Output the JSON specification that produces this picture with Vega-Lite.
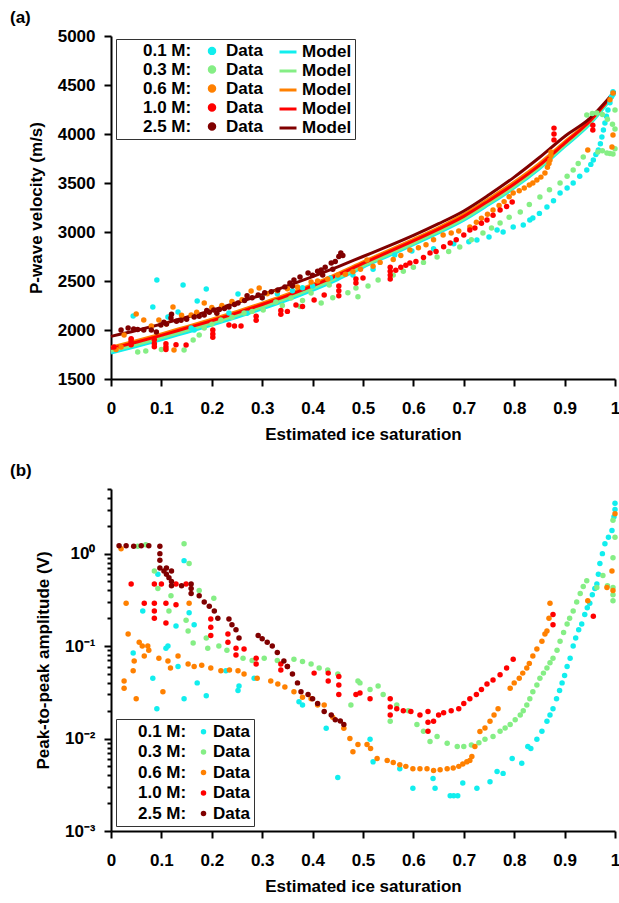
{
  "$schema": "https://vega.github.io/schema/vega-lite/v6.json",
  "background": "white",
  "padding": {"left": 10, "top": 9, "right": 0, "bottom": 0},
  "spacing": 20,
  "datasets": {
    "models": [
      {"series": "0.1 M: Model", "sat": 0, "vp": 1765}, {"series": "0.1 M: Model", "sat": 0.05, "vp": 1830}, {"series": "0.1 M: Model", "sat": 0.1, "vp": 1900}, {"series": "0.1 M: Model", "sat": 0.15, "vp": 1975}, {"series": "0.1 M: Model", "sat": 0.2, "vp": 2050}, {"series": "0.1 M: Model", "sat": 0.25, "vp": 2130}, {"series": "0.1 M: Model", "sat": 0.3, "vp": 2215}, {"series": "0.1 M: Model", "sat": 0.35, "vp": 2305}, {"series": "0.1 M: Model", "sat": 0.4, "vp": 2405}, {"series": "0.1 M: Model", "sat": 0.45, "vp": 2515}, {"series": "0.1 M: Model", "sat": 0.5, "vp": 2640}, {"series": "0.1 M: Model", "sat": 0.55, "vp": 2755}, {"series": "0.1 M: Model", "sat": 0.6, "vp": 2870}, {"series": "0.1 M: Model", "sat": 0.65, "vp": 2990}, {"series": "0.1 M: Model", "sat": 0.7, "vp": 3120}, {"series": "0.1 M: Model", "sat": 0.75, "vp": 3280}, {"series": "0.1 M: Model", "sat": 0.8, "vp": 3450}, {"series": "0.1 M: Model", "sat": 0.85, "vp": 3645}, {"series": "0.1 M: Model", "sat": 0.9, "vp": 3870}, {"series": "0.1 M: Model", "sat": 0.95, "vp": 4100}, {"series": "0.1 M: Model", "sat": 1, "vp": 4410},
      {"series": "0.3 M: Model", "sat": 0, "vp": 1785}, {"series": "0.3 M: Model", "sat": 0.05, "vp": 1850}, {"series": "0.3 M: Model", "sat": 0.1, "vp": 1920}, {"series": "0.3 M: Model", "sat": 0.15, "vp": 1995}, {"series": "0.3 M: Model", "sat": 0.2, "vp": 2070}, {"series": "0.3 M: Model", "sat": 0.25, "vp": 2150}, {"series": "0.3 M: Model", "sat": 0.3, "vp": 2235}, {"series": "0.3 M: Model", "sat": 0.35, "vp": 2325}, {"series": "0.3 M: Model", "sat": 0.4, "vp": 2425}, {"series": "0.3 M: Model", "sat": 0.45, "vp": 2535}, {"series": "0.3 M: Model", "sat": 0.5, "vp": 2655}, {"series": "0.3 M: Model", "sat": 0.55, "vp": 2770}, {"series": "0.3 M: Model", "sat": 0.6, "vp": 2885}, {"series": "0.3 M: Model", "sat": 0.65, "vp": 3005}, {"series": "0.3 M: Model", "sat": 0.7, "vp": 3135}, {"series": "0.3 M: Model", "sat": 0.75, "vp": 3295}, {"series": "0.3 M: Model", "sat": 0.8, "vp": 3465}, {"series": "0.3 M: Model", "sat": 0.85, "vp": 3660}, {"series": "0.3 M: Model", "sat": 0.9, "vp": 3885}, {"series": "0.3 M: Model", "sat": 0.95, "vp": 4115}, {"series": "0.3 M: Model", "sat": 1, "vp": 4420},
      {"series": "0.6 M: Model", "sat": 0, "vp": 1825}, {"series": "0.6 M: Model", "sat": 0.05, "vp": 1890}, {"series": "0.6 M: Model", "sat": 0.1, "vp": 1960}, {"series": "0.6 M: Model", "sat": 0.15, "vp": 2035}, {"series": "0.6 M: Model", "sat": 0.2, "vp": 2110}, {"series": "0.6 M: Model", "sat": 0.25, "vp": 2190}, {"series": "0.6 M: Model", "sat": 0.3, "vp": 2275}, {"series": "0.6 M: Model", "sat": 0.35, "vp": 2365}, {"series": "0.6 M: Model", "sat": 0.4, "vp": 2465}, {"series": "0.6 M: Model", "sat": 0.45, "vp": 2575}, {"series": "0.6 M: Model", "sat": 0.5, "vp": 2695}, {"series": "0.6 M: Model", "sat": 0.55, "vp": 2810}, {"series": "0.6 M: Model", "sat": 0.6, "vp": 2925}, {"series": "0.6 M: Model", "sat": 0.65, "vp": 3045}, {"series": "0.6 M: Model", "sat": 0.7, "vp": 3180}, {"series": "0.6 M: Model", "sat": 0.75, "vp": 3340}, {"series": "0.6 M: Model", "sat": 0.8, "vp": 3510}, {"series": "0.6 M: Model", "sat": 0.85, "vp": 3700}, {"series": "0.6 M: Model", "sat": 0.9, "vp": 3920}, {"series": "0.6 M: Model", "sat": 0.95, "vp": 4140}, {"series": "0.6 M: Model", "sat": 1, "vp": 4430},
      {"series": "1.0 M: Model", "sat": 0, "vp": 1810}, {"series": "1.0 M: Model", "sat": 0.05, "vp": 1875}, {"series": "1.0 M: Model", "sat": 0.1, "vp": 1945}, {"series": "1.0 M: Model", "sat": 0.15, "vp": 2020}, {"series": "1.0 M: Model", "sat": 0.2, "vp": 2095}, {"series": "1.0 M: Model", "sat": 0.25, "vp": 2175}, {"series": "1.0 M: Model", "sat": 0.3, "vp": 2260}, {"series": "1.0 M: Model", "sat": 0.35, "vp": 2350}, {"series": "1.0 M: Model", "sat": 0.4, "vp": 2450}, {"series": "1.0 M: Model", "sat": 0.45, "vp": 2560}, {"series": "1.0 M: Model", "sat": 0.5, "vp": 2680}, {"series": "1.0 M: Model", "sat": 0.55, "vp": 2795}, {"series": "1.0 M: Model", "sat": 0.6, "vp": 2910}, {"series": "1.0 M: Model", "sat": 0.65, "vp": 3030}, {"series": "1.0 M: Model", "sat": 0.7, "vp": 3160}, {"series": "1.0 M: Model", "sat": 0.75, "vp": 3320}, {"series": "1.0 M: Model", "sat": 0.8, "vp": 3490}, {"series": "1.0 M: Model", "sat": 0.85, "vp": 3680}, {"series": "1.0 M: Model", "sat": 0.9, "vp": 3905}, {"series": "1.0 M: Model", "sat": 0.95, "vp": 4130}, {"series": "1.0 M: Model", "sat": 1, "vp": 4430},
      {"series": "2.5 M: Model", "sat": 0, "vp": 1935}, {"series": "2.5 M: Model", "sat": 0.05, "vp": 1995}, {"series": "2.5 M: Model", "sat": 0.1, "vp": 2060}, {"series": "2.5 M: Model", "sat": 0.15, "vp": 2130}, {"series": "2.5 M: Model", "sat": 0.2, "vp": 2200}, {"series": "2.5 M: Model", "sat": 0.25, "vp": 2280}, {"series": "2.5 M: Model", "sat": 0.3, "vp": 2360}, {"series": "2.5 M: Model", "sat": 0.35, "vp": 2450}, {"series": "2.5 M: Model", "sat": 0.4, "vp": 2545}, {"series": "2.5 M: Model", "sat": 0.45, "vp": 2645}, {"series": "2.5 M: Model", "sat": 0.5, "vp": 2750}, {"series": "2.5 M: Model", "sat": 0.55, "vp": 2855}, {"series": "2.5 M: Model", "sat": 0.6, "vp": 2965}, {"series": "2.5 M: Model", "sat": 0.65, "vp": 3085}, {"series": "2.5 M: Model", "sat": 0.7, "vp": 3215}, {"series": "2.5 M: Model", "sat": 0.75, "vp": 3380}, {"series": "2.5 M: Model", "sat": 0.8, "vp": 3560}, {"series": "2.5 M: Model", "sat": 0.85, "vp": 3760}, {"series": "2.5 M: Model", "sat": 0.9, "vp": 3975}, {"series": "2.5 M: Model", "sat": 0.95, "vp": 4160}, {"series": "2.5 M: Model", "sat": 1, "vp": 4440}
    ],
    "velocity": [
      {"series": "0.1 M: Data", "sat": 0.044, "vp": 2143}, {"series": "0.1 M: Data", "sat": 0.083, "vp": 2235}, {"series": "0.1 M: Data", "sat": 0.091, "vp": 2510}, {"series": "0.1 M: Data", "sat": 0.113, "vp": 2133}, {"series": "0.1 M: Data", "sat": 0.133, "vp": 2184}, {"series": "0.1 M: Data", "sat": 0.143, "vp": 2459}, {"series": "0.1 M: Data", "sat": 0.159, "vp": 2020}, {"series": "0.1 M: Data", "sat": 0.165, "vp": 2000}, {"series": "0.1 M: Data", "sat": 0.171, "vp": 2296}, {"series": "0.1 M: Data", "sat": 0.189, "vp": 2418}, {"series": "0.1 M: Data", "sat": 0.234, "vp": 2173}, {"series": "0.1 M: Data", "sat": 0.252, "vp": 2367}, {"series": "0.1 M: Data", "sat": 0.27, "vp": 2170}, {"series": "0.1 M: Data", "sat": 0.3, "vp": 2330}, {"series": "0.1 M: Data", "sat": 0.33, "vp": 2370}, {"series": "0.1 M: Data", "sat": 0.36, "vp": 2400}, {"series": "0.1 M: Data", "sat": 0.38, "vp": 2430}, {"series": "0.1 M: Data", "sat": 0.4, "vp": 2450}, {"series": "0.1 M: Data", "sat": 0.435, "vp": 2530}, {"series": "0.1 M: Data", "sat": 0.45, "vp": 2540}, {"series": "0.1 M: Data", "sat": 0.48, "vp": 2560}, {"series": "0.1 M: Data", "sat": 0.52, "vp": 2620}, {"series": "0.1 M: Data", "sat": 0.563, "vp": 2765}, {"series": "0.1 M: Data", "sat": 0.597, "vp": 2806}, {"series": "0.1 M: Data", "sat": 0.64, "vp": 2830}, {"series": "0.1 M: Data", "sat": 0.68, "vp": 2880}, {"series": "0.1 M: Data", "sat": 0.71, "vp": 2900}, {"series": "0.1 M: Data", "sat": 0.726, "vp": 2918}, {"series": "0.1 M: Data", "sat": 0.75, "vp": 2950}, {"series": "0.1 M: Data", "sat": 0.766, "vp": 3020}, {"series": "0.1 M: Data", "sat": 0.778, "vp": 3000}, {"series": "0.1 M: Data", "sat": 0.798, "vp": 3051}, {"series": "0.1 M: Data", "sat": 0.818, "vp": 3071}, {"series": "0.1 M: Data", "sat": 0.831, "vp": 3122}, {"series": "0.1 M: Data", "sat": 0.837, "vp": 3143}, {"series": "0.1 M: Data", "sat": 0.85, "vp": 3190}, {"series": "0.1 M: Data", "sat": 0.865, "vp": 3255}, {"series": "0.1 M: Data", "sat": 0.878, "vp": 3320}, {"series": "0.1 M: Data", "sat": 0.891, "vp": 3398}, {"series": "0.1 M: Data", "sat": 0.905, "vp": 3450}, {"series": "0.1 M: Data", "sat": 0.917, "vp": 3500}, {"series": "0.1 M: Data", "sat": 0.93, "vp": 3570}, {"series": "0.1 M: Data", "sat": 0.944, "vp": 3633}, {"series": "0.1 M: Data", "sat": 0.952, "vp": 3690}, {"series": "0.1 M: Data", "sat": 0.957, "vp": 3735}, {"series": "0.1 M: Data", "sat": 0.962, "vp": 3790}, {"series": "0.1 M: Data", "sat": 0.967, "vp": 3837}, {"series": "0.1 M: Data", "sat": 0.971, "vp": 3900}, {"series": "0.1 M: Data", "sat": 0.974, "vp": 3969}, {"series": "0.1 M: Data", "sat": 0.977, "vp": 4040}, {"series": "0.1 M: Data", "sat": 0.98, "vp": 4112}, {"series": "0.1 M: Data", "sat": 0.983, "vp": 4180}, {"series": "0.1 M: Data", "sat": 0.986, "vp": 4245}, {"series": "0.1 M: Data", "sat": 0.99, "vp": 4320}, {"series": "0.1 M: Data", "sat": 0.993, "vp": 4380}, {"series": "0.1 M: Data", "sat": 0.996, "vp": 4430},
      {"series": "0.3 M: Data", "sat": 0.053, "vp": 1776}, {"series": "0.3 M: Data", "sat": 0.069, "vp": 1786}, {"series": "0.3 M: Data", "sat": 0.1, "vp": 1800}, {"series": "0.3 M: Data", "sat": 0.145, "vp": 1796}, {"series": "0.3 M: Data", "sat": 0.163, "vp": 1898}, {"series": "0.3 M: Data", "sat": 0.175, "vp": 1949}, {"series": "0.3 M: Data", "sat": 0.185, "vp": 2020}, {"series": "0.3 M: Data", "sat": 0.2, "vp": 2060}, {"series": "0.3 M: Data", "sat": 0.218, "vp": 2102}, {"series": "0.3 M: Data", "sat": 0.24, "vp": 2130}, {"series": "0.3 M: Data", "sat": 0.264, "vp": 2173}, {"series": "0.3 M: Data", "sat": 0.28, "vp": 2190}, {"series": "0.3 M: Data", "sat": 0.302, "vp": 2204}, {"series": "0.3 M: Data", "sat": 0.327, "vp": 2286}, {"series": "0.3 M: Data", "sat": 0.34, "vp": 2250}, {"series": "0.3 M: Data", "sat": 0.357, "vp": 2326}, {"series": "0.3 M: Data", "sat": 0.375, "vp": 2240}, {"series": "0.3 M: Data", "sat": 0.38, "vp": 2300}, {"series": "0.3 M: Data", "sat": 0.397, "vp": 2377}, {"series": "0.3 M: Data", "sat": 0.417, "vp": 2275}, {"series": "0.3 M: Data", "sat": 0.433, "vp": 2459}, {"series": "0.3 M: Data", "sat": 0.44, "vp": 2330}, {"series": "0.3 M: Data", "sat": 0.47, "vp": 2380}, {"series": "0.3 M: Data", "sat": 0.486, "vp": 2428}, {"series": "0.3 M: Data", "sat": 0.49, "vp": 2340}, {"series": "0.3 M: Data", "sat": 0.51, "vp": 2450}, {"series": "0.3 M: Data", "sat": 0.53, "vp": 2510}, {"series": "0.3 M: Data", "sat": 0.56, "vp": 2560}, {"series": "0.3 M: Data", "sat": 0.58, "vp": 2600}, {"series": "0.3 M: Data", "sat": 0.6, "vp": 2640}, {"series": "0.3 M: Data", "sat": 0.62, "vp": 2690}, {"series": "0.3 M: Data", "sat": 0.647, "vp": 2745}, {"series": "0.3 M: Data", "sat": 0.67, "vp": 2800}, {"series": "0.3 M: Data", "sat": 0.692, "vp": 2847}, {"series": "0.3 M: Data", "sat": 0.715, "vp": 2920}, {"series": "0.3 M: Data", "sat": 0.738, "vp": 2990}, {"series": "0.3 M: Data", "sat": 0.755, "vp": 3040}, {"series": "0.3 M: Data", "sat": 0.772, "vp": 3092}, {"series": "0.3 M: Data", "sat": 0.79, "vp": 3150}, {"series": "0.3 M: Data", "sat": 0.812, "vp": 3204}, {"series": "0.3 M: Data", "sat": 0.83, "vp": 3280}, {"series": "0.3 M: Data", "sat": 0.851, "vp": 3357}, {"series": "0.3 M: Data", "sat": 0.87, "vp": 3430}, {"series": "0.3 M: Data", "sat": 0.891, "vp": 3500}, {"series": "0.3 M: Data", "sat": 0.905, "vp": 3570}, {"series": "0.3 M: Data", "sat": 0.917, "vp": 3633}, {"series": "0.3 M: Data", "sat": 0.927, "vp": 3700}, {"series": "0.3 M: Data", "sat": 0.937, "vp": 3765}, {"series": "0.3 M: Data", "sat": 0.944, "vp": 4194}, {"series": "0.3 M: Data", "sat": 0.955, "vp": 4210}, {"series": "0.3 M: Data", "sat": 0.964, "vp": 4214}, {"series": "0.3 M: Data", "sat": 0.975, "vp": 4200}, {"series": "0.3 M: Data", "sat": 0.985, "vp": 4150}, {"series": "0.3 M: Data", "sat": 0.995, "vp": 4100}, {"series": "0.3 M: Data", "sat": 1, "vp": 4245}, {"series": "0.3 M: Data", "sat": 1, "vp": 4050}, {"series": "0.3 M: Data", "sat": 0.966, "vp": 3816}, {"series": "0.3 M: Data", "sat": 0.975, "vp": 3830}, {"series": "0.3 M: Data", "sat": 0.984, "vp": 3806}, {"series": "0.3 M: Data", "sat": 0.99, "vp": 3800}, {"series": "0.3 M: Data", "sat": 0.996, "vp": 3796}, {"series": "0.3 M: Data", "sat": 1, "vp": 3850},
      {"series": "0.6 M: Data", "sat": 0.01, "vp": 1800}, {"series": "0.6 M: Data", "sat": 0.02, "vp": 1827}, {"series": "0.6 M: Data", "sat": 0.026, "vp": 1949}, {"series": "0.6 M: Data", "sat": 0.04, "vp": 1900}, {"series": "0.6 M: Data", "sat": 0.05, "vp": 2163}, {"series": "0.6 M: Data", "sat": 0.065, "vp": 2102}, {"series": "0.6 M: Data", "sat": 0.08, "vp": 2040}, {"series": "0.6 M: Data", "sat": 0.095, "vp": 2102}, {"series": "0.6 M: Data", "sat": 0.11, "vp": 2060}, {"series": "0.6 M: Data", "sat": 0.123, "vp": 2235}, {"series": "0.6 M: Data", "sat": 0.125, "vp": 1796}, {"series": "0.6 M: Data", "sat": 0.14, "vp": 2150}, {"series": "0.6 M: Data", "sat": 0.159, "vp": 2153}, {"series": "0.6 M: Data", "sat": 0.17, "vp": 2180}, {"series": "0.6 M: Data", "sat": 0.185, "vp": 2276}, {"series": "0.6 M: Data", "sat": 0.2, "vp": 2230}, {"series": "0.6 M: Data", "sat": 0.22, "vp": 2250}, {"series": "0.6 M: Data", "sat": 0.24, "vp": 2290}, {"series": "0.6 M: Data", "sat": 0.26, "vp": 2310}, {"series": "0.6 M: Data", "sat": 0.278, "vp": 2398}, {"series": "0.6 M: Data", "sat": 0.294, "vp": 2428}, {"series": "0.6 M: Data", "sat": 0.31, "vp": 2370}, {"series": "0.6 M: Data", "sat": 0.33, "vp": 2400}, {"series": "0.6 M: Data", "sat": 0.35, "vp": 2420}, {"series": "0.6 M: Data", "sat": 0.37, "vp": 2440}, {"series": "0.6 M: Data", "sat": 0.397, "vp": 2490}, {"series": "0.6 M: Data", "sat": 0.41, "vp": 2500}, {"series": "0.6 M: Data", "sat": 0.43, "vp": 2520}, {"series": "0.6 M: Data", "sat": 0.45, "vp": 2561}, {"series": "0.6 M: Data", "sat": 0.465, "vp": 2570}, {"series": "0.6 M: Data", "sat": 0.48, "vp": 2595}, {"series": "0.6 M: Data", "sat": 0.495, "vp": 2620}, {"series": "0.6 M: Data", "sat": 0.508, "vp": 2714}, {"series": "0.6 M: Data", "sat": 0.52, "vp": 2650}, {"series": "0.6 M: Data", "sat": 0.534, "vp": 2690}, {"series": "0.6 M: Data", "sat": 0.56, "vp": 2720}, {"series": "0.6 M: Data", "sat": 0.575, "vp": 2760}, {"series": "0.6 M: Data", "sat": 0.593, "vp": 2816}, {"series": "0.6 M: Data", "sat": 0.61, "vp": 2840}, {"series": "0.6 M: Data", "sat": 0.625, "vp": 2870}, {"series": "0.6 M: Data", "sat": 0.64, "vp": 2920}, {"series": "0.6 M: Data", "sat": 0.659, "vp": 2969}, {"series": "0.6 M: Data", "sat": 0.675, "vp": 2990}, {"series": "0.6 M: Data", "sat": 0.69, "vp": 3010}, {"series": "0.6 M: Data", "sat": 0.712, "vp": 3051}, {"series": "0.6 M: Data", "sat": 0.725, "vp": 3100}, {"series": "0.6 M: Data", "sat": 0.735, "vp": 3140}, {"series": "0.6 M: Data", "sat": 0.747, "vp": 3180}, {"series": "0.6 M: Data", "sat": 0.758, "vp": 3224}, {"series": "0.6 M: Data", "sat": 0.77, "vp": 3270}, {"series": "0.6 M: Data", "sat": 0.78, "vp": 3310}, {"series": "0.6 M: Data", "sat": 0.79, "vp": 3360}, {"series": "0.6 M: Data", "sat": 0.798, "vp": 3398}, {"series": "0.6 M: Data", "sat": 0.81, "vp": 3420}, {"series": "0.6 M: Data", "sat": 0.82, "vp": 3450}, {"series": "0.6 M: Data", "sat": 0.83, "vp": 3480}, {"series": "0.6 M: Data", "sat": 0.837, "vp": 3500}, {"series": "0.6 M: Data", "sat": 0.845, "vp": 3530}, {"series": "0.6 M: Data", "sat": 0.853, "vp": 3560}, {"series": "0.6 M: Data", "sat": 0.861, "vp": 3602}, {"series": "0.6 M: Data", "sat": 0.866, "vp": 3660}, {"series": "0.6 M: Data", "sat": 0.869, "vp": 3700}, {"series": "0.6 M: Data", "sat": 0.871, "vp": 3735}, {"series": "0.6 M: Data", "sat": 0.873, "vp": 3780}, {"series": "0.6 M: Data", "sat": 0.873, "vp": 3816}, {"series": "0.6 M: Data", "sat": 0.946, "vp": 3837}, {"series": "0.6 M: Data", "sat": 0.994, "vp": 3867}, {"series": "0.6 M: Data", "sat": 0.996, "vp": 3990}, {"series": "0.6 M: Data", "sat": 0.99, "vp": 4350}, {"series": "0.6 M: Data", "sat": 0.996, "vp": 4418},
      {"series": "1.0 M: Data", "sat": 0.006, "vp": 1827}, {"series": "1.0 M: Data", "sat": 0.04, "vp": 1850}, {"series": "1.0 M: Data", "sat": 0.04, "vp": 1880}, {"series": "1.0 M: Data", "sat": 0.04, "vp": 1910}, {"series": "1.0 M: Data", "sat": 0.086, "vp": 1830}, {"series": "1.0 M: Data", "sat": 0.086, "vp": 1860}, {"series": "1.0 M: Data", "sat": 0.086, "vp": 1900}, {"series": "1.0 M: Data", "sat": 0.109, "vp": 1800}, {"series": "1.0 M: Data", "sat": 0.109, "vp": 1827}, {"series": "1.0 M: Data", "sat": 0.109, "vp": 1860}, {"series": "1.0 M: Data", "sat": 0.129, "vp": 1850}, {"series": "1.0 M: Data", "sat": 0.149, "vp": 1847}, {"series": "1.0 M: Data", "sat": 0.202, "vp": 1925}, {"series": "1.0 M: Data", "sat": 0.202, "vp": 1960}, {"series": "1.0 M: Data", "sat": 0.202, "vp": 2000}, {"series": "1.0 M: Data", "sat": 0.234, "vp": 2051}, {"series": "1.0 M: Data", "sat": 0.245, "vp": 2040}, {"series": "1.0 M: Data", "sat": 0.258, "vp": 2041}, {"series": "1.0 M: Data", "sat": 0.288, "vp": 2100}, {"series": "1.0 M: Data", "sat": 0.288, "vp": 2140}, {"series": "1.0 M: Data", "sat": 0.337, "vp": 2160}, {"series": "1.0 M: Data", "sat": 0.337, "vp": 2200}, {"series": "1.0 M: Data", "sat": 0.35, "vp": 2190}, {"series": "1.0 M: Data", "sat": 0.367, "vp": 2255}, {"series": "1.0 M: Data", "sat": 0.38, "vp": 2240}, {"series": "1.0 M: Data", "sat": 0.403, "vp": 2306}, {"series": "1.0 M: Data", "sat": 0.423, "vp": 2357}, {"series": "1.0 M: Data", "sat": 0.452, "vp": 2350}, {"series": "1.0 M: Data", "sat": 0.452, "vp": 2400}, {"series": "1.0 M: Data", "sat": 0.452, "vp": 2450}, {"series": "1.0 M: Data", "sat": 0.486, "vp": 2480}, {"series": "1.0 M: Data", "sat": 0.486, "vp": 2520}, {"series": "1.0 M: Data", "sat": 0.5, "vp": 2530}, {"series": "1.0 M: Data", "sat": 0.554, "vp": 2520}, {"series": "1.0 M: Data", "sat": 0.554, "vp": 2560}, {"series": "1.0 M: Data", "sat": 0.554, "vp": 2600}, {"series": "1.0 M: Data", "sat": 0.554, "vp": 2640}, {"series": "1.0 M: Data", "sat": 0.565, "vp": 2610}, {"series": "1.0 M: Data", "sat": 0.575, "vp": 2640}, {"series": "1.0 M: Data", "sat": 0.585, "vp": 2660}, {"series": "1.0 M: Data", "sat": 0.593, "vp": 2684}, {"series": "1.0 M: Data", "sat": 0.605, "vp": 2700}, {"series": "1.0 M: Data", "sat": 0.62, "vp": 2740}, {"series": "1.0 M: Data", "sat": 0.633, "vp": 2786}, {"series": "1.0 M: Data", "sat": 0.645, "vp": 2800}, {"series": "1.0 M: Data", "sat": 0.66, "vp": 2850}, {"series": "1.0 M: Data", "sat": 0.673, "vp": 2888}, {"series": "1.0 M: Data", "sat": 0.685, "vp": 2920}, {"series": "1.0 M: Data", "sat": 0.7, "vp": 2970}, {"series": "1.0 M: Data", "sat": 0.712, "vp": 3020}, {"series": "1.0 M: Data", "sat": 0.722, "vp": 3040}, {"series": "1.0 M: Data", "sat": 0.735, "vp": 3090}, {"series": "1.0 M: Data", "sat": 0.746, "vp": 3122}, {"series": "1.0 M: Data", "sat": 0.758, "vp": 3170}, {"series": "1.0 M: Data", "sat": 0.772, "vp": 3224}, {"series": "1.0 M: Data", "sat": 0.785, "vp": 3260}, {"series": "1.0 M: Data", "sat": 0.796, "vp": 3306}, {"series": "1.0 M: Data", "sat": 0.879, "vp": 3940}, {"series": "1.0 M: Data", "sat": 0.879, "vp": 4000}, {"series": "1.0 M: Data", "sat": 0.879, "vp": 4060}, {"series": "1.0 M: Data", "sat": 0.956, "vp": 4040}, {"series": "1.0 M: Data", "sat": 0.956, "vp": 4090},
      {"series": "2.5 M: Data", "sat": 0.02, "vp": 2000}, {"series": "2.5 M: Data", "sat": 0.034, "vp": 2020}, {"series": "2.5 M: Data", "sat": 0.045, "vp": 2010}, {"series": "2.5 M: Data", "sat": 0.053, "vp": 2005}, {"series": "2.5 M: Data", "sat": 0.065, "vp": 2000}, {"series": "2.5 M: Data", "sat": 0.08, "vp": 2000}, {"series": "2.5 M: Data", "sat": 0.09, "vp": 1980}, {"series": "2.5 M: Data", "sat": 0.099, "vp": 2051}, {"series": "2.5 M: Data", "sat": 0.105, "vp": 2080}, {"series": "2.5 M: Data", "sat": 0.11, "vp": 2060}, {"series": "2.5 M: Data", "sat": 0.119, "vp": 2122}, {"series": "2.5 M: Data", "sat": 0.12, "vp": 2160}, {"series": "2.5 M: Data", "sat": 0.13, "vp": 2090}, {"series": "2.5 M: Data", "sat": 0.139, "vp": 2100}, {"series": "2.5 M: Data", "sat": 0.15, "vp": 2110}, {"series": "2.5 M: Data", "sat": 0.165, "vp": 2133}, {"series": "2.5 M: Data", "sat": 0.175, "vp": 2140}, {"series": "2.5 M: Data", "sat": 0.185, "vp": 2153}, {"series": "2.5 M: Data", "sat": 0.19, "vp": 2200}, {"series": "2.5 M: Data", "sat": 0.195, "vp": 2180}, {"series": "2.5 M: Data", "sat": 0.204, "vp": 2204}, {"series": "2.5 M: Data", "sat": 0.21, "vp": 2170}, {"series": "2.5 M: Data", "sat": 0.215, "vp": 2210}, {"series": "2.5 M: Data", "sat": 0.225, "vp": 2220}, {"series": "2.5 M: Data", "sat": 0.234, "vp": 2235}, {"series": "2.5 M: Data", "sat": 0.245, "vp": 2260}, {"series": "2.5 M: Data", "sat": 0.252, "vp": 2276}, {"series": "2.5 M: Data", "sat": 0.265, "vp": 2300}, {"series": "2.5 M: Data", "sat": 0.27, "vp": 2350}, {"series": "2.5 M: Data", "sat": 0.28, "vp": 2330}, {"series": "2.5 M: Data", "sat": 0.292, "vp": 2357}, {"series": "2.5 M: Data", "sat": 0.3, "vp": 2330}, {"series": "2.5 M: Data", "sat": 0.305, "vp": 2380}, {"series": "2.5 M: Data", "sat": 0.318, "vp": 2390}, {"series": "2.5 M: Data", "sat": 0.331, "vp": 2408}, {"series": "2.5 M: Data", "sat": 0.345, "vp": 2440}, {"series": "2.5 M: Data", "sat": 0.355, "vp": 2480}, {"series": "2.5 M: Data", "sat": 0.36, "vp": 2450}, {"series": "2.5 M: Data", "sat": 0.363, "vp": 2510}, {"series": "2.5 M: Data", "sat": 0.375, "vp": 2540}, {"series": "2.5 M: Data", "sat": 0.391, "vp": 2582}, {"series": "2.5 M: Data", "sat": 0.4, "vp": 2560}, {"series": "2.5 M: Data", "sat": 0.41, "vp": 2600}, {"series": "2.5 M: Data", "sat": 0.417, "vp": 2612}, {"series": "2.5 M: Data", "sat": 0.42, "vp": 2560}, {"series": "2.5 M: Data", "sat": 0.425, "vp": 2640}, {"series": "2.5 M: Data", "sat": 0.437, "vp": 2684}, {"series": "2.5 M: Data", "sat": 0.44, "vp": 2620}, {"series": "2.5 M: Data", "sat": 0.445, "vp": 2700}, {"series": "2.5 M: Data", "sat": 0.452, "vp": 2750}, {"series": "2.5 M: Data", "sat": 0.456, "vp": 2786}, {"series": "2.5 M: Data", "sat": 0.46, "vp": 2760}
    ],
    "amplitude": [
      {"series": "0.1 M: Data", "sat": 0.044, "amp": 0.084}, {"series": "0.1 M: Data", "sat": 0.063, "amp": 0.24}, {"series": "0.1 M: Data", "sat": 0.083, "amp": 0.045}, {"series": "0.1 M: Data", "sat": 0.091, "amp": 0.021}, {"series": "0.1 M: Data", "sat": 0.093, "amp": 0.6}, {"series": "0.1 M: Data", "sat": 0.109, "amp": 0.095}, {"series": "0.1 M: Data", "sat": 0.113, "amp": 0.1}, {"series": "0.1 M: Data", "sat": 0.129, "amp": 0.165}, {"series": "0.1 M: Data", "sat": 0.133, "amp": 0.06}, {"series": "0.1 M: Data", "sat": 0.145, "amp": 0.84}, {"series": "0.1 M: Data", "sat": 0.145, "amp": 0.027}, {"series": "0.1 M: Data", "sat": 0.155, "amp": 0.23}, {"series": "0.1 M: Data", "sat": 0.165, "amp": 0.17}, {"series": "0.1 M: Data", "sat": 0.171, "amp": 0.04}, {"series": "0.1 M: Data", "sat": 0.189, "amp": 0.029}, {"series": "0.1 M: Data", "sat": 0.228, "amp": 0.054}, {"series": "0.1 M: Data", "sat": 0.252, "amp": 0.033}, {"series": "0.1 M: Data", "sat": 0.254, "amp": 0.037}, {"series": "0.1 M: Data", "sat": 0.284, "amp": 0.045}, {"series": "0.1 M: Data", "sat": 0.373, "amp": 0.025}, {"series": "0.1 M: Data", "sat": 0.38, "amp": 0.023}, {"series": "0.1 M: Data", "sat": 0.427, "amp": 0.0129}, {"series": "0.1 M: Data", "sat": 0.45, "amp": 0.0038}, {"series": "0.1 M: Data", "sat": 0.514, "amp": 0.0098}, {"series": "0.1 M: Data", "sat": 0.52, "amp": 0.0056}, {"series": "0.1 M: Data", "sat": 0.573, "amp": 0.0047}, {"series": "0.1 M: Data", "sat": 0.599, "amp": 0.0029}, {"series": "0.1 M: Data", "sat": 0.639, "amp": 0.0037}, {"series": "0.1 M: Data", "sat": 0.643, "amp": 0.0029}, {"series": "0.1 M: Data", "sat": 0.673, "amp": 0.0024}, {"series": "0.1 M: Data", "sat": 0.68, "amp": 0.0024}, {"series": "0.1 M: Data", "sat": 0.688, "amp": 0.0024}, {"series": "0.1 M: Data", "sat": 0.698, "amp": 0.0033}, {"series": "0.1 M: Data", "sat": 0.726, "amp": 0.0029}, {"series": "0.1 M: Data", "sat": 0.752, "amp": 0.0034}, {"series": "0.1 M: Data", "sat": 0.766, "amp": 0.0044}, {"series": "0.1 M: Data", "sat": 0.778, "amp": 0.0042}, {"series": "0.1 M: Data", "sat": 0.796, "amp": 0.0061}, {"series": "0.1 M: Data", "sat": 0.815, "amp": 0.0054}, {"series": "0.1 M: Data", "sat": 0.827, "amp": 0.0082}, {"series": "0.1 M: Data", "sat": 0.833, "amp": 0.0078}, {"series": "0.1 M: Data", "sat": 0.845, "amp": 0.0098}, {"series": "0.1 M: Data", "sat": 0.855, "amp": 0.012}, {"series": "0.1 M: Data", "sat": 0.865, "amp": 0.0154}, {"series": "0.1 M: Data", "sat": 0.871, "amp": 0.018}, {"series": "0.1 M: Data", "sat": 0.877, "amp": 0.021}, {"series": "0.1 M: Data", "sat": 0.884, "amp": 0.027}, {"series": "0.1 M: Data", "sat": 0.89, "amp": 0.033}, {"series": "0.1 M: Data", "sat": 0.895, "amp": 0.04}, {"series": "0.1 M: Data", "sat": 0.9, "amp": 0.048}, {"series": "0.1 M: Data", "sat": 0.905, "amp": 0.06}, {"series": "0.1 M: Data", "sat": 0.911, "amp": 0.074}, {"series": "0.1 M: Data", "sat": 0.917, "amp": 0.1}, {"series": "0.1 M: Data", "sat": 0.922, "amp": 0.122}, {"series": "0.1 M: Data", "sat": 0.928, "amp": 0.15}, {"series": "0.1 M: Data", "sat": 0.934, "amp": 0.173}, {"series": "0.1 M: Data", "sat": 0.94, "amp": 0.22}, {"series": "0.1 M: Data", "sat": 0.945, "amp": 0.26}, {"series": "0.1 M: Data", "sat": 0.95, "amp": 0.29}, {"series": "0.1 M: Data", "sat": 0.955, "amp": 0.36}, {"series": "0.1 M: Data", "sat": 0.96, "amp": 0.42}, {"series": "0.1 M: Data", "sat": 0.964, "amp": 0.47}, {"series": "0.1 M: Data", "sat": 0.967, "amp": 0.6}, {"series": "0.1 M: Data", "sat": 0.97, "amp": 0.78}, {"series": "0.1 M: Data", "sat": 0.975, "amp": 1.0}, {"series": "0.1 M: Data", "sat": 0.98, "amp": 1.28}, {"series": "0.1 M: Data", "sat": 0.987, "amp": 1.5}, {"series": "0.1 M: Data", "sat": 0.994, "amp": 1.78}, {"series": "0.1 M: Data", "sat": 0.998, "amp": 2.5}, {"series": "0.1 M: Data", "sat": 1, "amp": 3.0}, {"series": "0.1 M: Data", "sat": 1, "amp": 3.5},
      {"series": "0.3 M: Data", "sat": 0.053, "amp": 1.2}, {"series": "0.3 M: Data", "sat": 0.069, "amp": 1.25}, {"series": "0.3 M: Data", "sat": 0.086, "amp": 0.65}, {"series": "0.3 M: Data", "sat": 0.093, "amp": 0.42}, {"series": "0.3 M: Data", "sat": 0.115, "amp": 0.24}, {"series": "0.3 M: Data", "sat": 0.119, "amp": 0.35}, {"series": "0.3 M: Data", "sat": 0.145, "amp": 1.28}, {"series": "0.3 M: Data", "sat": 0.149, "amp": 0.19}, {"series": "0.3 M: Data", "sat": 0.153, "amp": 0.146}, {"series": "0.3 M: Data", "sat": 0.155, "amp": 0.78}, {"series": "0.3 M: Data", "sat": 0.163, "amp": 0.108}, {"series": "0.3 M: Data", "sat": 0.175, "amp": 0.4}, {"series": "0.3 M: Data", "sat": 0.189, "amp": 0.122}, {"series": "0.3 M: Data", "sat": 0.192, "amp": 0.095}, {"series": "0.3 M: Data", "sat": 0.204, "amp": 0.33}, {"series": "0.3 M: Data", "sat": 0.214, "amp": 0.1}, {"series": "0.3 M: Data", "sat": 0.23, "amp": 0.09}, {"series": "0.3 M: Data", "sat": 0.262, "amp": 0.074}, {"series": "0.3 M: Data", "sat": 0.28, "amp": 0.07}, {"series": "0.3 M: Data", "sat": 0.304, "amp": 0.074}, {"series": "0.3 M: Data", "sat": 0.33, "amp": 0.07}, {"series": "0.3 M: Data", "sat": 0.363, "amp": 0.072}, {"series": "0.3 M: Data", "sat": 0.38, "amp": 0.068}, {"series": "0.3 M: Data", "sat": 0.397, "amp": 0.064}, {"series": "0.3 M: Data", "sat": 0.413, "amp": 0.058}, {"series": "0.3 M: Data", "sat": 0.43, "amp": 0.055}, {"series": "0.3 M: Data", "sat": 0.45, "amp": 0.05}, {"series": "0.3 M: Data", "sat": 0.476, "amp": 0.023}, {"series": "0.3 M: Data", "sat": 0.49, "amp": 0.042}, {"series": "0.3 M: Data", "sat": 0.494, "amp": 0.04}, {"series": "0.3 M: Data", "sat": 0.514, "amp": 0.034}, {"series": "0.3 M: Data", "sat": 0.53, "amp": 0.037}, {"series": "0.3 M: Data", "sat": 0.54, "amp": 0.03}, {"series": "0.3 M: Data", "sat": 0.554, "amp": 0.0154}, {"series": "0.3 M: Data", "sat": 0.567, "amp": 0.023}, {"series": "0.3 M: Data", "sat": 0.59, "amp": 0.02}, {"series": "0.3 M: Data", "sat": 0.607, "amp": 0.0142}, {"series": "0.3 M: Data", "sat": 0.62, "amp": 0.012}, {"series": "0.3 M: Data", "sat": 0.633, "amp": 0.0093}, {"series": "0.3 M: Data", "sat": 0.647, "amp": 0.0105}, {"series": "0.3 M: Data", "sat": 0.667, "amp": 0.0089}, {"series": "0.3 M: Data", "sat": 0.687, "amp": 0.0082}, {"series": "0.3 M: Data", "sat": 0.7, "amp": 0.0082}, {"series": "0.3 M: Data", "sat": 0.715, "amp": 0.0085}, {"series": "0.3 M: Data", "sat": 0.73, "amp": 0.009}, {"series": "0.3 M: Data", "sat": 0.742, "amp": 0.0098}, {"series": "0.3 M: Data", "sat": 0.758, "amp": 0.0105}, {"series": "0.3 M: Data", "sat": 0.772, "amp": 0.012}, {"series": "0.3 M: Data", "sat": 0.782, "amp": 0.013}, {"series": "0.3 M: Data", "sat": 0.792, "amp": 0.0142}, {"series": "0.3 M: Data", "sat": 0.802, "amp": 0.016}, {"series": "0.3 M: Data", "sat": 0.812, "amp": 0.018}, {"series": "0.3 M: Data", "sat": 0.818, "amp": 0.02}, {"series": "0.3 M: Data", "sat": 0.825, "amp": 0.023}, {"series": "0.3 M: Data", "sat": 0.831, "amp": 0.027}, {"series": "0.3 M: Data", "sat": 0.837, "amp": 0.032}, {"series": "0.3 M: Data", "sat": 0.845, "amp": 0.038}, {"series": "0.3 M: Data", "sat": 0.851, "amp": 0.045}, {"series": "0.3 M: Data", "sat": 0.858, "amp": 0.051}, {"series": "0.3 M: Data", "sat": 0.865, "amp": 0.058}, {"series": "0.3 M: Data", "sat": 0.871, "amp": 0.066}, {"series": "0.3 M: Data", "sat": 0.877, "amp": 0.074}, {"series": "0.3 M: Data", "sat": 0.885, "amp": 0.09}, {"series": "0.3 M: Data", "sat": 0.891, "amp": 0.113}, {"series": "0.3 M: Data", "sat": 0.898, "amp": 0.14}, {"series": "0.3 M: Data", "sat": 0.905, "amp": 0.173}, {"series": "0.3 M: Data", "sat": 0.91, "amp": 0.2}, {"series": "0.3 M: Data", "sat": 0.917, "amp": 0.24}, {"series": "0.3 M: Data", "sat": 0.924, "amp": 0.3}, {"series": "0.3 M: Data", "sat": 0.931, "amp": 0.37}, {"series": "0.3 M: Data", "sat": 0.937, "amp": 0.44}, {"series": "0.3 M: Data", "sat": 0.944, "amp": 0.51}, {"series": "0.3 M: Data", "sat": 0.964, "amp": 0.43}, {"series": "0.3 M: Data", "sat": 0.976, "amp": 0.58}, {"series": "0.3 M: Data", "sat": 0.985, "amp": 0.45}, {"series": "0.3 M: Data", "sat": 0.996, "amp": 0.43}, {"series": "0.3 M: Data", "sat": 0.996, "amp": 0.36}, {"series": "0.3 M: Data", "sat": 0.996, "amp": 0.31}, {"series": "0.3 M: Data", "sat": 0.996, "amp": 0.9}, {"series": "0.3 M: Data", "sat": 0.996, "amp": 2.3}, {"series": "0.3 M: Data", "sat": 1, "amp": 1.5},
      {"series": "0.6 M: Data", "sat": 0.02, "amp": 1.13}, {"series": "0.6 M: Data", "sat": 0.026, "amp": 0.042}, {"series": "0.6 M: Data", "sat": 0.026, "amp": 0.035}, {"series": "0.6 M: Data", "sat": 0.03, "amp": 0.29}, {"series": "0.6 M: Data", "sat": 0.034, "amp": 0.135}, {"series": "0.6 M: Data", "sat": 0.044, "amp": 0.054}, {"series": "0.6 M: Data", "sat": 0.046, "amp": 0.069}, {"series": "0.6 M: Data", "sat": 0.05, "amp": 0.027}, {"series": "0.6 M: Data", "sat": 0.056, "amp": 0.11}, {"series": "0.6 M: Data", "sat": 0.062, "amp": 0.1}, {"series": "0.6 M: Data", "sat": 0.066, "amp": 0.078}, {"series": "0.6 M: Data", "sat": 0.073, "amp": 0.1}, {"series": "0.6 M: Data", "sat": 0.075, "amp": 0.09}, {"series": "0.6 M: Data", "sat": 0.095, "amp": 0.074}, {"series": "0.6 M: Data", "sat": 0.103, "amp": 0.032}, {"series": "0.6 M: Data", "sat": 0.113, "amp": 0.069}, {"series": "0.6 M: Data", "sat": 0.118, "amp": 0.058}, {"series": "0.6 M: Data", "sat": 0.133, "amp": 0.078}, {"series": "0.6 M: Data", "sat": 0.153, "amp": 0.064}, {"series": "0.6 M: Data", "sat": 0.155, "amp": 0.29}, {"series": "0.6 M: Data", "sat": 0.165, "amp": 0.06}, {"series": "0.6 M: Data", "sat": 0.18, "amp": 0.062}, {"series": "0.6 M: Data", "sat": 0.198, "amp": 0.058}, {"series": "0.6 M: Data", "sat": 0.218, "amp": 0.054}, {"series": "0.6 M: Data", "sat": 0.235, "amp": 0.055}, {"series": "0.6 M: Data", "sat": 0.252, "amp": 0.054}, {"series": "0.6 M: Data", "sat": 0.264, "amp": 0.05}, {"series": "0.6 M: Data", "sat": 0.29, "amp": 0.045}, {"series": "0.6 M: Data", "sat": 0.317, "amp": 0.042}, {"series": "0.6 M: Data", "sat": 0.331, "amp": 0.039}, {"series": "0.6 M: Data", "sat": 0.345, "amp": 0.036}, {"series": "0.6 M: Data", "sat": 0.363, "amp": 0.032}, {"series": "0.6 M: Data", "sat": 0.38, "amp": 0.028}, {"series": "0.6 M: Data", "sat": 0.397, "amp": 0.027}, {"series": "0.6 M: Data", "sat": 0.41, "amp": 0.023}, {"series": "0.6 M: Data", "sat": 0.423, "amp": 0.023}, {"series": "0.6 M: Data", "sat": 0.44, "amp": 0.017}, {"series": "0.6 M: Data", "sat": 0.462, "amp": 0.0129}, {"series": "0.6 M: Data", "sat": 0.474, "amp": 0.01}, {"series": "0.6 M: Data", "sat": 0.48, "amp": 0.0072}, {"series": "0.6 M: Data", "sat": 0.49, "amp": 0.0086}, {"series": "0.6 M: Data", "sat": 0.508, "amp": 0.0086}, {"series": "0.6 M: Data", "sat": 0.515, "amp": 0.0078}, {"series": "0.6 M: Data", "sat": 0.528, "amp": 0.0061}, {"series": "0.6 M: Data", "sat": 0.548, "amp": 0.0058}, {"series": "0.6 M: Data", "sat": 0.56, "amp": 0.0055}, {"series": "0.6 M: Data", "sat": 0.573, "amp": 0.0052}, {"series": "0.6 M: Data", "sat": 0.585, "amp": 0.005}, {"series": "0.6 M: Data", "sat": 0.599, "amp": 0.0047}, {"series": "0.6 M: Data", "sat": 0.613, "amp": 0.0047}, {"series": "0.6 M: Data", "sat": 0.627, "amp": 0.0047}, {"series": "0.6 M: Data", "sat": 0.64, "amp": 0.0045}, {"series": "0.6 M: Data", "sat": 0.653, "amp": 0.0046}, {"series": "0.6 M: Data", "sat": 0.667, "amp": 0.0047}, {"series": "0.6 M: Data", "sat": 0.679, "amp": 0.0048}, {"series": "0.6 M: Data", "sat": 0.69, "amp": 0.005}, {"series": "0.6 M: Data", "sat": 0.698, "amp": 0.0053}, {"series": "0.6 M: Data", "sat": 0.706, "amp": 0.0056}, {"series": "0.6 M: Data", "sat": 0.712, "amp": 0.0058}, {"series": "0.6 M: Data", "sat": 0.716, "amp": 0.0064}, {"series": "0.6 M: Data", "sat": 0.722, "amp": 0.0082}, {"series": "0.6 M: Data", "sat": 0.732, "amp": 0.0119}, {"series": "0.6 M: Data", "sat": 0.742, "amp": 0.013}, {"series": "0.6 M: Data", "sat": 0.752, "amp": 0.0154}, {"series": "0.6 M: Data", "sat": 0.76, "amp": 0.018}, {"series": "0.6 M: Data", "sat": 0.768, "amp": 0.021}, {"series": "0.6 M: Data", "sat": 0.792, "amp": 0.035}, {"series": "0.6 M: Data", "sat": 0.8, "amp": 0.04}, {"series": "0.6 M: Data", "sat": 0.81, "amp": 0.045}, {"series": "0.6 M: Data", "sat": 0.817, "amp": 0.051}, {"series": "0.6 M: Data", "sat": 0.825, "amp": 0.058}, {"series": "0.6 M: Data", "sat": 0.83, "amp": 0.065}, {"series": "0.6 M: Data", "sat": 0.837, "amp": 0.078}, {"series": "0.6 M: Data", "sat": 0.845, "amp": 0.093}, {"series": "0.6 M: Data", "sat": 0.855, "amp": 0.113}, {"series": "0.6 M: Data", "sat": 0.861, "amp": 0.135}, {"series": "0.6 M: Data", "sat": 0.865, "amp": 0.146}, {"series": "0.6 M: Data", "sat": 0.869, "amp": 0.2}, {"series": "0.6 M: Data", "sat": 0.871, "amp": 0.29}, {"series": "0.6 M: Data", "sat": 0.946, "amp": 0.31}, {"series": "0.6 M: Data", "sat": 0.984, "amp": 0.43}, {"series": "0.6 M: Data", "sat": 0.994, "amp": 0.65}, {"series": "0.6 M: Data", "sat": 0.996, "amp": 0.4}, {"series": "0.6 M: Data", "sat": 1, "amp": 2.7},
      {"series": "1.0 M: Data", "sat": 0.04, "amp": 0.47}, {"series": "1.0 M: Data", "sat": 0.066, "amp": 0.29}, {"series": "1.0 M: Data", "sat": 0.086, "amp": 0.47}, {"series": "1.0 M: Data", "sat": 0.086, "amp": 0.29}, {"series": "1.0 M: Data", "sat": 0.086, "amp": 0.24}, {"series": "1.0 M: Data", "sat": 0.086, "amp": 0.2}, {"series": "1.0 M: Data", "sat": 0.1, "amp": 0.47}, {"series": "1.0 M: Data", "sat": 0.109, "amp": 0.29}, {"series": "1.0 M: Data", "sat": 0.109, "amp": 0.178}, {"series": "1.0 M: Data", "sat": 0.129, "amp": 0.47}, {"series": "1.0 M: Data", "sat": 0.129, "amp": 0.28}, {"series": "1.0 M: Data", "sat": 0.149, "amp": 0.47}, {"series": "1.0 M: Data", "sat": 0.198, "amp": 0.196}, {"series": "1.0 M: Data", "sat": 0.198, "amp": 0.16}, {"series": "1.0 M: Data", "sat": 0.198, "amp": 0.13}, {"series": "1.0 M: Data", "sat": 0.232, "amp": 0.135}, {"series": "1.0 M: Data", "sat": 0.232, "amp": 0.11}, {"series": "1.0 M: Data", "sat": 0.248, "amp": 0.095}, {"series": "1.0 M: Data", "sat": 0.248, "amp": 0.08}, {"series": "1.0 M: Data", "sat": 0.264, "amp": 0.093}, {"series": "1.0 M: Data", "sat": 0.288, "amp": 0.074}, {"series": "1.0 M: Data", "sat": 0.288, "amp": 0.064}, {"series": "1.0 M: Data", "sat": 0.337, "amp": 0.064}, {"series": "1.0 M: Data", "sat": 0.337, "amp": 0.055}, {"series": "1.0 M: Data", "sat": 0.35, "amp": 0.06}, {"series": "1.0 M: Data", "sat": 0.403, "amp": 0.051}, {"series": "1.0 M: Data", "sat": 0.431, "amp": 0.051}, {"series": "1.0 M: Data", "sat": 0.431, "amp": 0.042}, {"series": "1.0 M: Data", "sat": 0.452, "amp": 0.047}, {"series": "1.0 M: Data", "sat": 0.452, "amp": 0.038}, {"series": "1.0 M: Data", "sat": 0.452, "amp": 0.03}, {"series": "1.0 M: Data", "sat": 0.486, "amp": 0.03}, {"series": "1.0 M: Data", "sat": 0.494, "amp": 0.031}, {"series": "1.0 M: Data", "sat": 0.514, "amp": 0.027}, {"series": "1.0 M: Data", "sat": 0.554, "amp": 0.027}, {"series": "1.0 M: Data", "sat": 0.554, "amp": 0.022}, {"series": "1.0 M: Data", "sat": 0.554, "amp": 0.018}, {"series": "1.0 M: Data", "sat": 0.567, "amp": 0.021}, {"series": "1.0 M: Data", "sat": 0.58, "amp": 0.02}, {"series": "1.0 M: Data", "sat": 0.595, "amp": 0.0196}, {"series": "1.0 M: Data", "sat": 0.613, "amp": 0.018}, {"series": "1.0 M: Data", "sat": 0.629, "amp": 0.0196}, {"series": "1.0 M: Data", "sat": 0.629, "amp": 0.015}, {"series": "1.0 M: Data", "sat": 0.629, "amp": 0.012}, {"series": "1.0 M: Data", "sat": 0.64, "amp": 0.0154}, {"series": "1.0 M: Data", "sat": 0.65, "amp": 0.018}, {"series": "1.0 M: Data", "sat": 0.66, "amp": 0.019}, {"series": "1.0 M: Data", "sat": 0.675, "amp": 0.02}, {"series": "1.0 M: Data", "sat": 0.69, "amp": 0.021}, {"series": "1.0 M: Data", "sat": 0.7, "amp": 0.024}, {"series": "1.0 M: Data", "sat": 0.712, "amp": 0.027}, {"series": "1.0 M: Data", "sat": 0.725, "amp": 0.03}, {"series": "1.0 M: Data", "sat": 0.735, "amp": 0.034}, {"series": "1.0 M: Data", "sat": 0.746, "amp": 0.039}, {"series": "1.0 M: Data", "sat": 0.758, "amp": 0.043}, {"series": "1.0 M: Data", "sat": 0.772, "amp": 0.049}, {"series": "1.0 M: Data", "sat": 0.785, "amp": 0.058}, {"series": "1.0 M: Data", "sat": 0.798, "amp": 0.072}, {"series": "1.0 M: Data", "sat": 0.877, "amp": 0.22}, {"series": "1.0 M: Data", "sat": 0.877, "amp": 0.17}, {"series": "1.0 M: Data", "sat": 0.957, "amp": 0.21},
      {"series": "2.5 M: Data", "sat": 0.016, "amp": 1.22}, {"series": "2.5 M: Data", "sat": 0.03, "amp": 1.22}, {"series": "2.5 M: Data", "sat": 0.045, "amp": 1.2}, {"series": "2.5 M: Data", "sat": 0.06, "amp": 1.22}, {"series": "2.5 M: Data", "sat": 0.075, "amp": 1.22}, {"series": "2.5 M: Data", "sat": 0.097, "amp": 1.2}, {"series": "2.5 M: Data", "sat": 0.097, "amp": 1.0}, {"series": "2.5 M: Data", "sat": 0.097, "amp": 0.85}, {"series": "2.5 M: Data", "sat": 0.097, "amp": 0.7}, {"series": "2.5 M: Data", "sat": 0.105, "amp": 0.65}, {"series": "2.5 M: Data", "sat": 0.11, "amp": 0.7}, {"series": "2.5 M: Data", "sat": 0.11, "amp": 0.6}, {"series": "2.5 M: Data", "sat": 0.115, "amp": 0.55}, {"series": "2.5 M: Data", "sat": 0.12, "amp": 0.65}, {"series": "2.5 M: Data", "sat": 0.12, "amp": 0.5}, {"series": "2.5 M: Data", "sat": 0.12, "amp": 0.45}, {"series": "2.5 M: Data", "sat": 0.14, "amp": 0.45}, {"series": "2.5 M: Data", "sat": 0.159, "amp": 0.47}, {"series": "2.5 M: Data", "sat": 0.159, "amp": 0.42}, {"series": "2.5 M: Data", "sat": 0.159, "amp": 0.37}, {"series": "2.5 M: Data", "sat": 0.175, "amp": 0.35}, {"series": "2.5 M: Data", "sat": 0.185, "amp": 0.3}, {"series": "2.5 M: Data", "sat": 0.195, "amp": 0.27}, {"series": "2.5 M: Data", "sat": 0.205, "amp": 0.24}, {"series": "2.5 M: Data", "sat": 0.212, "amp": 0.2}, {"series": "2.5 M: Data", "sat": 0.234, "amp": 0.196}, {"series": "2.5 M: Data", "sat": 0.24, "amp": 0.17}, {"series": "2.5 M: Data", "sat": 0.248, "amp": 0.15}, {"series": "2.5 M: Data", "sat": 0.254, "amp": 0.122}, {"series": "2.5 M: Data", "sat": 0.292, "amp": 0.13}, {"series": "2.5 M: Data", "sat": 0.3, "amp": 0.12}, {"series": "2.5 M: Data", "sat": 0.31, "amp": 0.11}, {"series": "2.5 M: Data", "sat": 0.32, "amp": 0.1}, {"series": "2.5 M: Data", "sat": 0.33, "amp": 0.085}, {"series": "2.5 M: Data", "sat": 0.343, "amp": 0.069}, {"series": "2.5 M: Data", "sat": 0.35, "amp": 0.06}, {"series": "2.5 M: Data", "sat": 0.36, "amp": 0.05}, {"series": "2.5 M: Data", "sat": 0.37, "amp": 0.04}, {"series": "2.5 M: Data", "sat": 0.377, "amp": 0.032}, {"series": "2.5 M: Data", "sat": 0.391, "amp": 0.03}, {"series": "2.5 M: Data", "sat": 0.4, "amp": 0.027}, {"series": "2.5 M: Data", "sat": 0.41, "amp": 0.024}, {"series": "2.5 M: Data", "sat": 0.423, "amp": 0.0196}, {"series": "2.5 M: Data", "sat": 0.437, "amp": 0.018}, {"series": "2.5 M: Data", "sat": 0.445, "amp": 0.016}, {"series": "2.5 M: Data", "sat": 0.455, "amp": 0.0155}, {"series": "2.5 M: Data", "sat": 0.462, "amp": 0.0142}
    ]
  },
  "vconcat": [
    {
      "width": 504,
      "height": 343,
      "title": {"text": "(a)", "dx": -101, "dy": 10},
      "encoding": {
        "x": {
          "field": "sat", "type": "quantitative",
          "scale": {"domain": [0, 1], "nice": false},
          "axis": {"values": [0, 0.1, 0.2, 0.3, 0.4, 0.5, 0.6, 0.7, 0.8, 0.9, 1], "format": "~g", "title": "Estimated ice saturation", "labelPadding": 14, "titlePadding": 10}
        },
        "y": {
          "field": "vp", "type": "quantitative",
          "scale": {"domain": [1500, 5000], "nice": false, "zero": false},
          "axis": {"values": [1500, 2000, 2500, 3000, 3500, 4000, 4500, 5000], "format": "d", "title": "P-wave velocity (m/s)", "labelPadding": 9, "titlePadding": 12}
        }
      },
      "layer": [
        {
          "data": {"name": "models"},
          "mark": {"type": "line", "strokeWidth": 3, "interpolate": "monotone"},
          "encoding": {
            "color": {
              "field": "series", "type": "nominal",
              "scale": {
                "domain": ["0.1 M:", "0.3 M:", "0.6 M:", "1.0 M:", "2.5 M:", "0.1 M: Data", "0.3 M: Data", "0.6 M: Data", "1.0 M: Data", "2.5 M: Data", "0.1 M: Model", "0.3 M: Model", "0.6 M: Model", "1.0 M: Model", "2.5 M: Model"],
                "range": ["#ffffff", "#ffffff", "#ffffff", "#ffffff", "#ffffff", "#11eeee", "#85ee85", "#ff8000", "#ff0000", "#800000", "#11eeee", "#85ee85", "#ff8000", "#ff0000", "#800000"]
              },
              "legend": {
                "orient": "none", "legendX": 5, "legendY": 3, "columns": 3, "direction": "vertical", "title": null,
                "padding": 3, "rowPadding": 0, "columnPadding": 10, "labelOffset": 4,
                "strokeColor": "#333333", "fillColor": "#ffffff",
                "labelFont": "Liberation Sans", "labelFontSize": 17, "labelFontWeight": "bold", "labelColor": "#000000", "labelLimit": 300,
                "labelExpr": "indexof(datum.label, 'Data') > 0 ? 'Data' : indexof(datum.label, 'Model') > 0 ? 'Model' : datum.label",
                "symbolStrokeWidth": 3, "symbolOpacity": 1
              }
            }
          }
        },
        {
          "data": {"name": "velocity"},
          "mark": {"type": "point", "filled": true, "opacity": 1, "strokeWidth": 0},
          "encoding": {
            "size": {
              "field": "series", "type": "nominal",
              "scale": {
                "type": "ordinal",
                "domain": ["0.1 M:", "0.3 M:", "0.6 M:", "1.0 M:", "2.5 M:", "0.1 M: Data", "0.3 M: Data", "0.6 M: Data", "1.0 M: Data", "2.5 M: Data", "0.1 M: Model", "0.3 M: Model", "0.6 M: Model", "1.0 M: Model", "2.5 M: Model"],
                "range": [0.01, 0.01, 0.01, 0.01, 0.01, 30, 30, 30, 30, 30, 289, 289, 289, 289, 289]
              },
              "legend": {
                "orient": "none", "legendX": 5, "legendY": 3, "columns": 3, "direction": "vertical", "title": null,
                "padding": 3, "rowPadding": 0, "columnPadding": 10, "labelOffset": 4,
                "strokeColor": "#333333", "fillColor": "#ffffff",
                "labelFont": "Liberation Sans", "labelFontSize": 17, "labelFontWeight": "bold", "labelColor": "#000000", "labelLimit": 300,
                "labelExpr": "indexof(datum.label, 'Data') > 0 ? 'Data' : indexof(datum.label, 'Model') > 0 ? 'Model' : datum.label",
                "symbolStrokeWidth": 3, "symbolOpacity": 1
              }
            },
            "shape": {
              "field": "series", "type": "nominal",
              "scale": {
                "domain": ["0.1 M:", "0.3 M:", "0.6 M:", "1.0 M:", "2.5 M:", "0.1 M: Data", "0.3 M: Data", "0.6 M: Data", "1.0 M: Data", "2.5 M: Data", "0.1 M: Model", "0.3 M: Model", "0.6 M: Model", "1.0 M: Model", "2.5 M: Model"],
                "range": ["circle", "circle", "circle", "circle", "circle", "circle", "circle", "circle", "circle", "circle", "stroke", "stroke", "stroke", "stroke", "stroke"]
              },
              "legend": {
                "orient": "none", "legendX": 5, "legendY": 3, "columns": 3, "direction": "vertical", "title": null,
                "padding": 3, "rowPadding": 0, "columnPadding": 10, "labelOffset": 4,
                "strokeColor": "#333333", "fillColor": "#ffffff",
                "labelFont": "Liberation Sans", "labelFontSize": 17, "labelFontWeight": "bold", "labelColor": "#000000", "labelLimit": 300,
                "labelExpr": "indexof(datum.label, 'Data') > 0 ? 'Data' : indexof(datum.label, 'Model') > 0 ? 'Model' : datum.label",
                "symbolStrokeWidth": 3, "symbolOpacity": 1
              }
            },
            "color": {
              "field": "series", "type": "nominal",
              "scale": {
                "domain": ["0.1 M:", "0.3 M:", "0.6 M:", "1.0 M:", "2.5 M:", "0.1 M: Data", "0.3 M: Data", "0.6 M: Data", "1.0 M: Data", "2.5 M: Data", "0.1 M: Model", "0.3 M: Model", "0.6 M: Model", "1.0 M: Model", "2.5 M: Model"],
                "range": ["#ffffff", "#ffffff", "#ffffff", "#ffffff", "#ffffff", "#11eeee", "#85ee85", "#ff8000", "#ff0000", "#800000", "#11eeee", "#85ee85", "#ff8000", "#ff0000", "#800000"]
              },
              "legend": {
                "orient": "none", "legendX": 5, "legendY": 3, "columns": 3, "direction": "vertical", "title": null,
                "padding": 3, "rowPadding": 0, "columnPadding": 10, "labelOffset": 4,
                "strokeColor": "#333333", "fillColor": "#ffffff",
                "labelFont": "Liberation Sans", "labelFontSize": 17, "labelFontWeight": "bold", "labelColor": "#000000", "labelLimit": 300,
                "labelExpr": "indexof(datum.label, 'Data') > 0 ? 'Data' : indexof(datum.label, 'Model') > 0 ? 'Model' : datum.label",
                "symbolStrokeWidth": 3, "symbolOpacity": 1
              }
            }
          }
        }
      ]
    },
    {
      "width": 504,
      "height": 342,
      "title": {"text": "(b)", "dx": -101, "dy": 10},
      "data": {"name": "amplitude"},
      "mark": {"type": "point", "filled": true, "opacity": 1, "strokeWidth": 0},
      "encoding": {
        "x": {
          "field": "sat", "type": "quantitative",
          "scale": {"domain": [0, 1], "nice": false},
          "axis": {"values": [0, 0.1, 0.2, 0.3, 0.4, 0.5, 0.6, 0.7, 0.8, 0.9, 1], "format": "~g", "title": "Estimated ice saturation", "labelPadding": 14, "titlePadding": 10}
        },
        "y": {
          "field": "amp", "type": "quantitative",
          "scale": {"type": "log", "domain": [0.001, 5], "nice": false},
          "axis": {
            "values": [0.001, 0.002, 0.003, 0.004, 0.005, 0.006, 0.007, 0.008, 0.009, 0.01, 0.02, 0.03, 0.04, 0.05, 0.06, 0.07, 0.08, 0.09, 0.1, 0.2, 0.3, 0.4, 0.5, 0.6, 0.7, 0.8, 0.9, 1, 2, 3, 4, 5],
            "labelExpr": "datum.value == 1 ? '10⁰' : datum.value == 0.1 ? '10⁻¹' : datum.value == 0.01 ? '10⁻²' : datum.value == 0.001 ? '10⁻³' : ''",
            "tickSize": {"condition": {"test": "datum.value == 1 || datum.value == 0.1 || datum.value == 0.01 || datum.value == 0.001", "value": 7}, "value": 4},
            "title": "Peak-to-peak amplitude (V)", "labelPadding": 9, "titlePadding": 12
          }
        },
        "size": {
          "field": "series", "type": "nominal",
          "scale": {
            "type": "ordinal",
            "domain": ["0.1 M:", "0.3 M:", "0.6 M:", "1.0 M:", "2.5 M:", "0.1 M: Data", "0.3 M: Data", "0.6 M: Data", "1.0 M: Data", "2.5 M: Data"],
            "range": [0.01, 0.01, 0.01, 0.01, 0.01, 30, 30, 30, 30, 30]
          },
          "legend": {
            "orient": "none", "legendX": 5, "legendY": 230, "columns": 2, "direction": "vertical", "title": null,
            "padding": 4, "rowPadding": 2.5, "columnPadding": 8, "labelOffset": 1,
            "strokeColor": "#333333", "fillColor": "#ffffff",
            "labelFont": "Liberation Sans", "labelFontSize": 17, "labelFontWeight": "bold", "labelColor": "#000000", "labelLimit": 300,
            "labelExpr": "indexof(datum.label, 'Data') > 0 ? 'Data' : datum.label",
            "symbolOpacity": 1
          }
        },
        "color": {
          "field": "series", "type": "nominal",
          "scale": {
            "domain": ["0.1 M:", "0.3 M:", "0.6 M:", "1.0 M:", "2.5 M:", "0.1 M: Data", "0.3 M: Data", "0.6 M: Data", "1.0 M: Data", "2.5 M: Data"],
            "range": ["#ffffff", "#ffffff", "#ffffff", "#ffffff", "#ffffff", "#11eeee", "#85ee85", "#ff8000", "#ff0000", "#800000"]
          },
          "legend": {
            "orient": "none", "legendX": 5, "legendY": 230, "columns": 2, "direction": "vertical", "title": null,
            "padding": 4, "rowPadding": 2.5, "columnPadding": 8, "labelOffset": 1,
            "strokeColor": "#333333", "fillColor": "#ffffff",
            "labelFont": "Liberation Sans", "labelFontSize": 17, "labelFontWeight": "bold", "labelColor": "#000000", "labelLimit": 300,
            "labelExpr": "indexof(datum.label, 'Data') > 0 ? 'Data' : datum.label",
            "symbolOpacity": 1
          }
        }
      }
    }
  ],
  "resolve": {
    "scale": {"color": "independent", "size": "independent", "shape": "independent"},
    "legend": {"color": "independent", "size": "independent", "shape": "independent"}
  },
  "config": {
    "view": {"stroke": null},
    "font": "Liberation Sans",
    "title": {"font": "Liberation Sans", "fontSize": 17, "fontWeight": "bold", "color": "#000000", "anchor": "start", "frame": "group", "offset": 10},
    "axis": {
      "grid": false, "domainColor": "#000000", "domainWidth": 2, "tickColor": "#000000", "tickWidth": 2, "tickSize": 7,
      "labelColor": "#000000", "labelFont": "Liberation Sans", "labelFontSize": 17, "labelFontWeight": "bold",
      "labelFlush": false, "labelOverlap": false,
      "titleColor": "#000000", "titleFont": "Liberation Sans", "titleFontSize": 17, "titleFontWeight": "bold"
    }
  }
}
